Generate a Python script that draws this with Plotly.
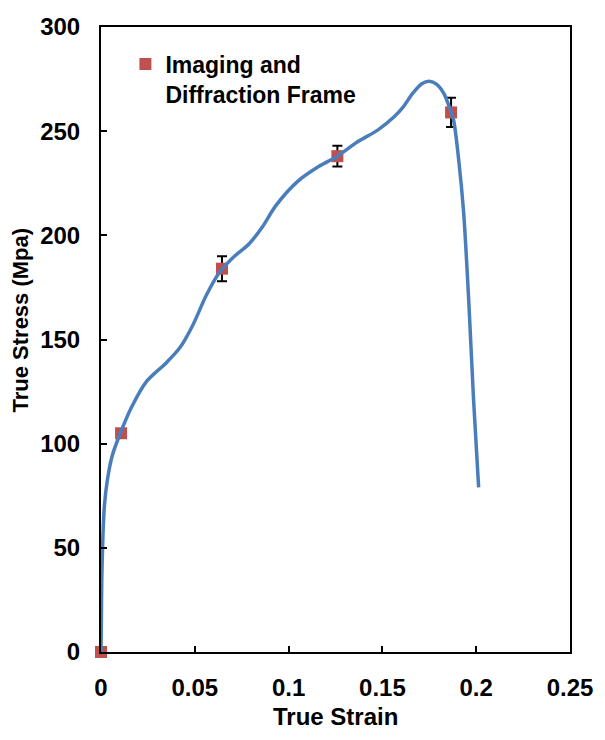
import plotly.graph_objects as go

# Measured frame points (true strain, true stress in MPa) with error half-widths
frame_strain = [0.0, 0.0107, 0.0645, 0.126, 0.1866]
frame_stress = [0.0, 105, 184, 238, 259]
frame_err = [0.0, 2.0, 6.0, 5.0, 7.0]

# Continuous tensile curve
curve_strain = [0.0, 0.0002, 0.0004, 0.0010, 0.0018, 0.0033, 0.0059, 0.0103,
                0.0160, 0.0244, 0.035, 0.042, 0.049, 0.056, 0.063, 0.070,
                0.079, 0.086, 0.093, 0.105, 0.116, 0.126, 0.137, 0.1475,
                0.1564, 0.161, 0.166, 0.171, 0.175, 0.179, 0.1828, 0.1855,
                0.188, 0.1907, 0.1933, 0.196, 0.1986, 0.2013]
curve_stress = [0, 15, 34, 55, 70, 82, 94, 105,
                117, 130, 139, 146, 157, 171, 182, 189,
                196, 204, 214, 226, 233, 238, 245, 250.5,
                257, 261.5, 268, 272.8, 274, 272.5, 268, 262,
                255, 236, 211, 169, 121, 79]

x_ticks = [0, 0.05, 0.1, 0.15, 0.2, 0.25]
y_ticks = [0, 50, 100, 150, 200, 250, 300]

FONT = "Arial, Liberation Sans, sans-serif"
LINE_BLUE = "#4A7EBB"
MARK_RED = "#C0504D"

fig = go.Figure()

fig.add_trace(go.Scatter(
    x=frame_strain, y=frame_stress,
    mode="markers",
    name="Imaging and<br>Diffraction Frame",
    marker=dict(symbol="square", size=12, color=MARK_RED),
    error_y=dict(type="data", array=frame_err, visible=True,
                 color="black", thickness=2, width=5),
    cliponaxis=False,
))

fig.add_trace(go.Scatter(
    x=curve_strain, y=curve_stress,
    mode="lines",
    line=dict(color=LINE_BLUE, width=3.5, shape="spline", smoothing=0.8),
    showlegend=False,
    cliponaxis=False,
))

axis_common = dict(
    showline=True, linecolor="black", linewidth=2, mirror=True,
    ticks="inside", ticklen=6, tickwidth=2, tickcolor="black",
    showgrid=False, zeroline=False,
    tickfont=dict(family=FONT, size=24, color="black", weight="bold"),
)

fig.update_xaxes(range=[0, 0.25], tickvals=x_ticks,
                 ticktext=[f"{v:g}" for v in x_ticks],
                 ticklabelstandoff=13, **axis_common)
fig.update_yaxes(range=[0, 300], tickvals=y_ticks,
                 ticklabelstandoff=14, **axis_common)

fig.update_layout(
    width=605, height=740,
    margin=dict(l=101, r=31, t=27, b=88),
    paper_bgcolor="white", plot_bgcolor="white",
    font=dict(family=FONT, size=24, color="black"),
    legend=dict(x=0.052, y=0.975, xanchor="left", yanchor="top",
                valign="top", bgcolor="rgba(0,0,0,0)",
                font=dict(family=FONT, size=23, color="black", weight="bold")),
    annotations=[
        dict(text="True Strain", xref="paper", yref="paper", x=0.5, y=0,
             yshift=-64, xanchor="center", yanchor="middle", showarrow=False,
             font=dict(family=FONT, size=24, color="black", weight="bold")),
        dict(text="True Stress (Mpa)", xref="paper", yref="paper", x=0,
             y=0.5304, xshift=-81, xanchor="center", yanchor="middle",
             textangle=-90, showarrow=False,
             font=dict(family=FONT, size=22, color="black", weight="bold")),
    ],
)

fig.write_html("out.html")
